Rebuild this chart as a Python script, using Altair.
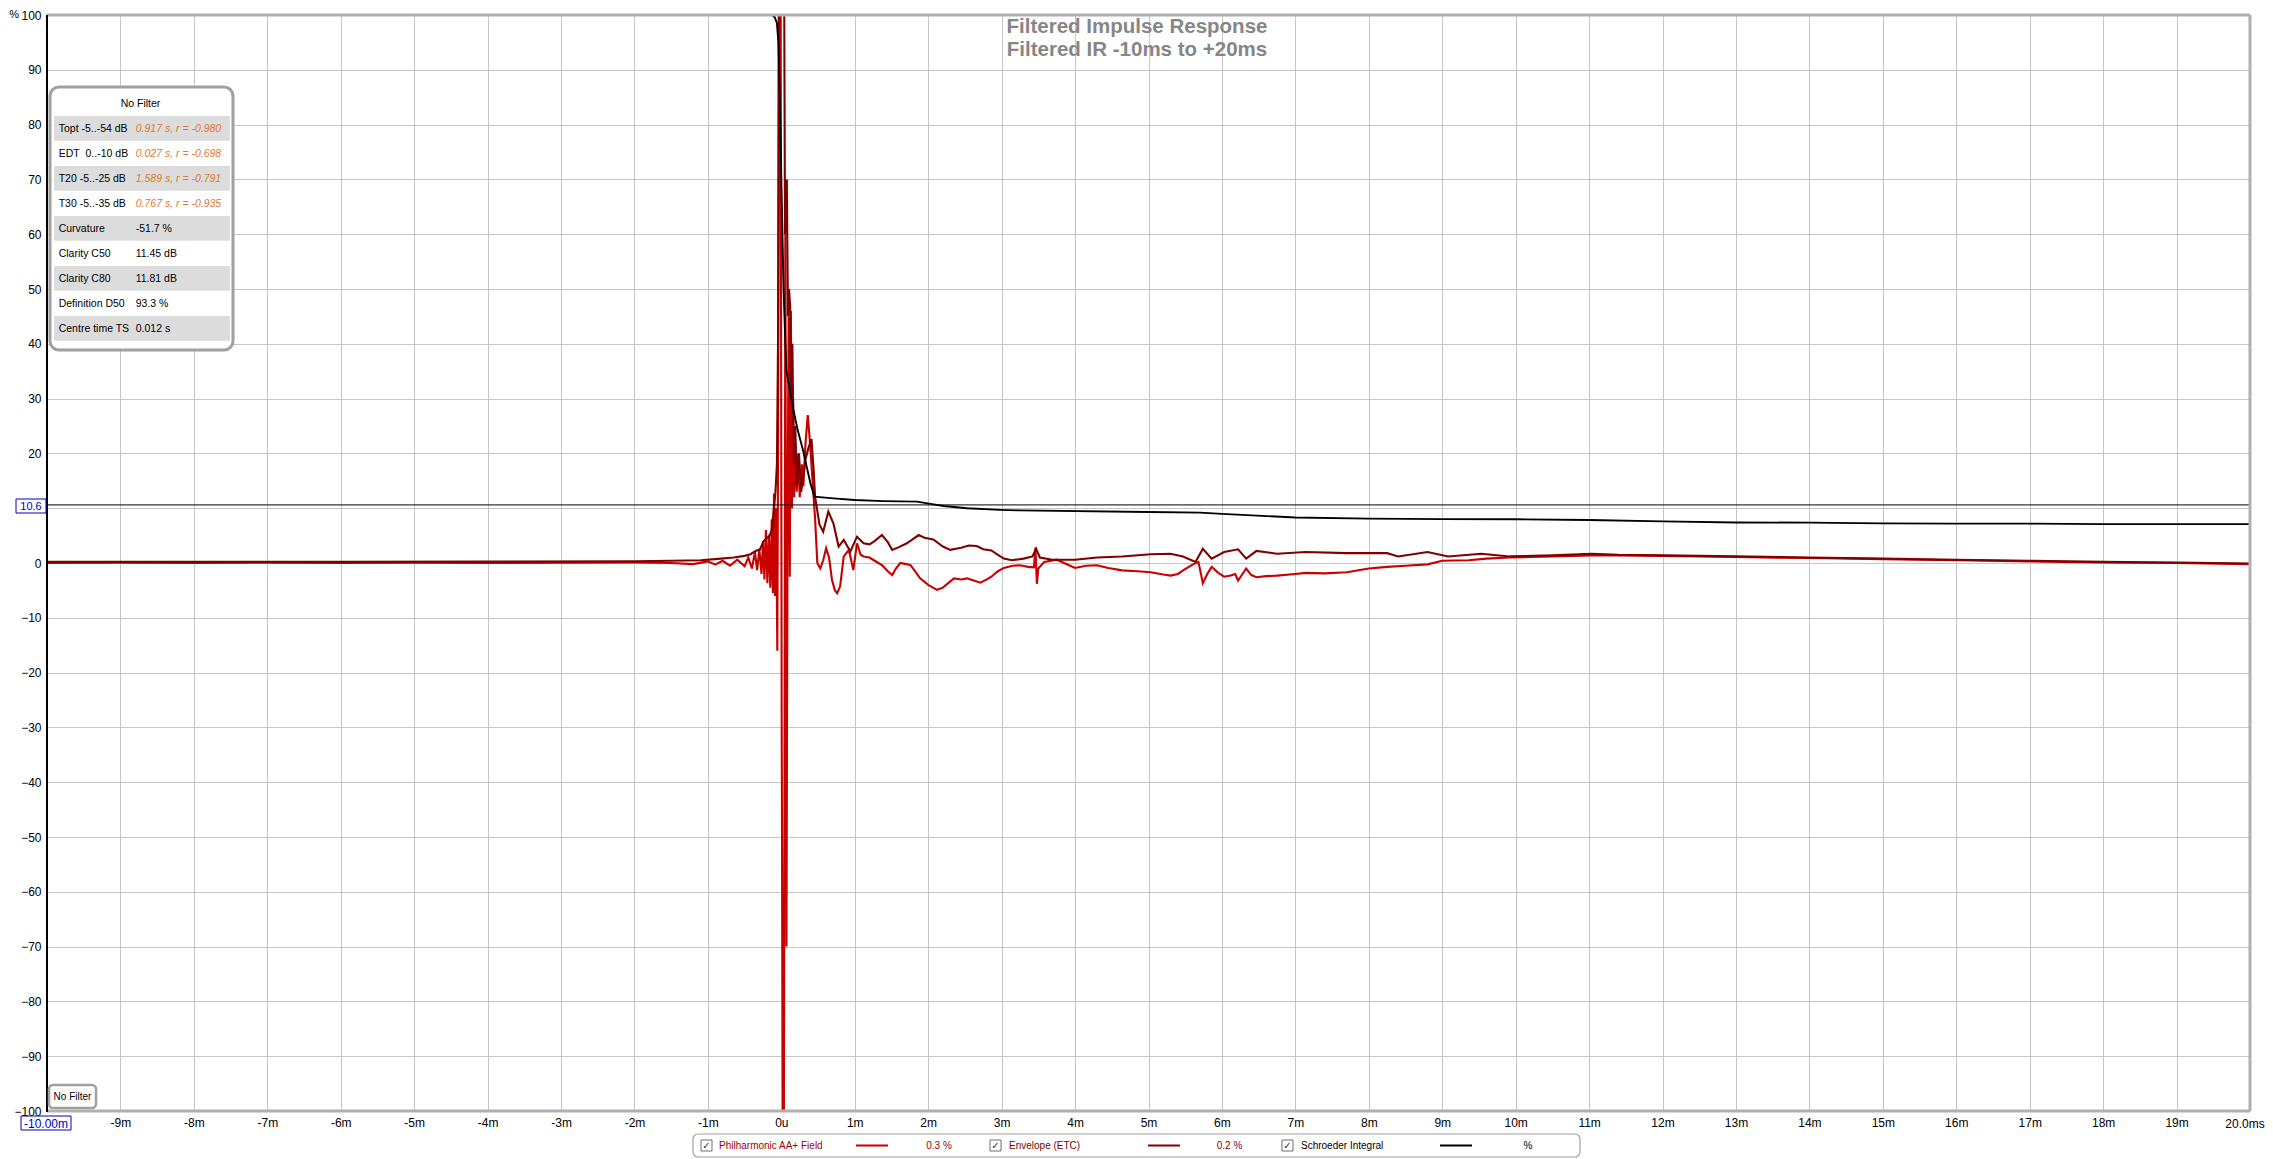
import altair as alt
import pandas as pd

# ---------------- data ----------------
ir_t = [-10.0, -9.0, -8.0, -7.0, -6.0, -5.0, -4.0, -3.0, -2.0, -1.5, -1.2, -1.0, -0.9, -0.8, -0.7, -0.6,
        -0.5, -0.45, -0.40, -0.36, -0.33, -0.30, -0.27, -0.25, -0.23, -0.21, -0.19, -0.17, -0.15, -0.13,
        -0.115, -0.10, -0.085, -0.07, -0.055, -0.045, -0.03, -0.01, 0.005, 0.02, 0.035, 0.045, 0.055, 0.07,
        0.085, 0.10, 0.115, 0.13, 0.145, 0.16, 0.175, 0.19, 0.21, 0.23, 0.25, 0.28, 0.30, 0.33, 0.36, 0.39,
        0.43, 0.46, 0.49, 0.53, 0.57, 0.61, 0.65, 0.69, 0.73, 0.76, 0.80, 0.85, 0.92, 0.98, 1.03, 1.08,
        1.12, 1.20, 1.26, 1.37, 1.45, 1.51, 1.56, 1.62, 1.70, 1.76, 1.82, 1.89, 2.0, 2.12, 2.2, 2.35,
        2.45, 2.53, 2.62, 2.71, 2.80, 2.86, 2.95, 3.03, 3.15, 3.25, 3.36, 3.44, 3.46, 3.48, 3.50, 3.58,
        3.75, 3.85, 4.0, 4.15, 4.3, 4.45, 4.64, 4.85, 5.03, 5.2, 5.3, 5.40, 5.47, 5.6, 5.68, 5.74, 5.8,
        5.86, 5.95, 6.03, 6.12, 6.18, 6.22, 6.28, 6.33, 6.40, 6.47, 6.6, 6.75, 7.0, 7.14, 7.4, 7.7, 8.0,
        8.25, 8.5, 8.8, 9.0, 9.36, 9.6, 9.92, 10.2, 10.5, 11.03, 11.4, 12.0, 13.0, 14.0, 15.0, 16.0,
        17.0, 18.0, 19.0, 20.0]
ir_v = [0.0, 0.05, 0.0, 0.05, 0.0, 0.05, 0.0, 0.05, 0.1, 0.0, -0.2, 0.3, -0.3, 0.4, -0.5, 0.6,
        -0.6, 1.0, -1.0, 2.0, -1.3, 2.5, -2.0, 4.0, -3.0, 6.0, -3.7, 5.0, -4.5, 8.0,
        -5.5, 12.7, -6.0, 10.0, -16.0, 20.0, 100, 100, -30, -100, -100, -24, 64, -70,
        10, 45, -2.5, 46, 10, 30, 12, 22, 13, 20, 12, 18, 14, 22, 27, 22,
        14, 8, 0, -1.0, 0.5, 2.7, 1.0, -3.1, -5.0, -5.5, -4.3, 1.2, 2.4, -1.3, 3.6, 1.5,
        1.2, 1.0, 0.5, -0.4, -1.5, -2.2, -1.0, 0.0, -0.2, -0.4, -1.5, -2.8, -4.0, -4.9, -4.5, -2.8,
        -3.0, -2.8, -3.2, -3.6, -3.0, -2.5, -1.5, -0.9, -0.5, -0.4, -0.7, -0.8, 2.8, -3.8, -1.0, 0.2,
        0.6, 0.0, -0.9, -0.5, -0.4, -0.9, -1.35, -1.5, -1.7, -2.1, -2.3, -2.0, -1.35, -0.3, 0.2, -3.7, -2.0,
        -0.7, -1.8, -2.5, -2.3, -2.0, -3.2, -2.0, -1.0, -2.2, -2.6, -2.4, -2.3, -2.0, -1.8, -1.9, -1.7, -1.0,
        -0.7, -0.5, -0.25, 0.4, 0.5, 0.8, 1.0, 1.1, 1.2, 1.4, 1.4, 1.3, 1.1, 0.9, 0.7, 0.5,
        0.3, 0.1, 0.0, -0.2]

env_t = [-10.0, -8.0, -6.0, -4.0, -2.0, -1.5, -1.1, -0.9, -0.65, -0.5, -0.42, -0.35, -0.29, -0.24, -0.20,
         -0.16, -0.13, -0.10, -0.08, -0.06, -0.045, -0.035, 0.04, 0.05, 0.06, 0.075, 0.09, 0.105, 0.12,
         0.135, 0.15, 0.17, 0.19, 0.21, 0.24, 0.27, 0.30, 0.33, 0.37, 0.41, 0.44, 0.46, 0.52, 0.57, 0.64,
         0.71, 0.78, 0.85, 0.94, 1.03, 1.12, 1.2, 1.26, 1.37, 1.45, 1.51, 1.6, 1.71, 1.87, 1.95, 2.07,
         2.2, 2.3, 2.45, 2.55, 2.66, 2.75, 2.86, 2.95, 3.03, 3.14, 3.3, 3.42, 3.47, 3.52, 3.69, 4.0, 4.3,
         4.64, 5.03, 5.3, 5.47, 5.64, 5.74, 5.86, 6.03, 6.22, 6.33, 6.47, 6.75, 7.14, 7.7, 8.25, 8.4, 8.8,
         9.08, 9.53, 9.92, 10.5, 11.03, 11.4, 12.0, 13.0, 14.0, 15.0, 16.0, 17.0, 18.0, 19.0, 20.0]
env_v = [0.2, 0.2, 0.2, 0.25, 0.3, 0.4, 0.5, 0.7, 1.0, 1.3, 1.6, 2.2, 2.5, 4.0, 4.5,
         5.0, 6.0, 10, 13, 18, 40, 100, 100, 60, 64, 70, 45, 50, 47,
         30, 40, 18, 25, 14, 20, 13, 16, 19, 21, 22.6, 17, 12, 7, 5.7, 9.4,
         7.2, 3.0, 4.2, 2.1, 4.8, 3.6, 3.4, 3.9, 5.1, 3.8, 2.4, 2.9, 3.6, 5.1, 4.6, 4.3,
         3.0, 2.4, 2.8, 3.2, 3.1, 2.5, 2.3, 1.5, 0.8, 0.5, 0.8, 1.2, 2.6, 1.0, 0.6, 0.6, 1.0,
         1.2, 1.6, 1.7, 1.2, 0.2, 2.6, 0.8, 2.0, 2.5, 0.8, 2.2, 1.7, 2.0, 1.8, 1.8, 1.2, 2.0,
         1.2, 1.7, 1.2, 1.4, 1.7, 1.5, 1.4, 1.2, 1.0, 0.8, 0.6, 0.4, 0.2, 0.1, -0.1]

sch_t = [-0.13, -0.09, -0.06, -0.04, -0.02, 0.0, 0.03, 0.068, 0.11, 0.154, 0.222, 0.295, 0.395, 0.45,
         0.71, 1.0, 1.39, 1.85, 2.03, 2.21, 2.53, 2.98, 3.25, 5.0, 5.7, 6.0, 7.0, 8.0, 9.0, 10.0, 11.0,
         12.0, 13.0, 14.0, 15.0, 16.0, 17.0, 18.0, 19.0, 20.0]
sch_v = [100, 99.6, 98.5, 95, 85, 70, 50, 35.2, 32, 28.6, 24.3, 20.6, 14.6, 12.1,
         11.8, 11.5, 11.3, 11.2, 10.8, 10.4, 10.0, 9.7, 9.6, 9.3, 9.2, 8.96, 8.3, 8.1, 8.0, 7.98, 7.85,
         7.6, 7.4, 7.36, 7.24, 7.18, 7.18, 7.1, 7.1, 7.1]

marker_level = [10.6]
marker_text = "10.6"
x_ticks = list(range(-9, 20))
y_ticks = list(range(-100, 101, 10))
x_start_label = "-10.00m"
x_end_label = "20.0ms"
y_unit = "%"
title_lines = ["Filtered Impulse Response", "Filtered IR -10ms to +20ms"]
table_title = "No Filter"
table_labels = ["Topt -5..-54 dB", "EDT\u00a0 0..-10 dB", "T20 -5..-25 dB", "T30 -5..-35 dB", "Curvature",
                "Clarity C50", "Clarity C80", "Definition D50", "Centre time TS"]
table_values = ["0.917 s, r = -0.980", "0.027 s, r = -0.698", "1.589 s, r = -0.791", "0.767 s, r = -0.935",
                "-51.7 %", "11.45 dB", "11.81 dB", "93.3 %", "0.012 s"]
table_is_fit = [True, True, True, True, False, False, False, False, False]
filter_label = "No Filter"
legend_names = ["Philharmonic AA+ Field", "Envelope (ETC)", "Schroeder Integral"]
legend_values = ["0.3 %", "0.2 %", "%"]

# ---------------- styles / layout ----------------
PW, PH = 2203, 1096
C_IR = "#c80000"
C_ENV = "#800000"
C_SCH = "#000000"
C_GRID = "#c6c6c6"
C_FRAME = "#b0b0b0"
C_BLUE = "#0000c0"
C_FIT = "#e07830"
FONT = "Liberation Sans"

one = pd.DataFrame({"k": [0]})

xs = alt.Scale(domain=[-10, 20], nice=False, zero=False)
ys = alt.Scale(domain=[-100, 100], nice=False, zero=False)
xaxis = alt.Axis(values=x_ticks, labelExpr="datum.value == 0 ? '0u' : datum.value + 'm'", title=None,
                 grid=True, gridColor=C_GRID, gridWidth=1, domain=False, ticks=False, tickSize=0,
                 labelFont=FONT, labelFontSize=12, labelColor="black", labelPadding=6,
                 labelOverlap=False, labelFlush=False, zindex=0)
# the "10" label sits under the 10.6 marker box in the reference
yaxis = alt.Axis(values=y_ticks, labelExpr="datum.value == 10 ? '' : datum.label", title=None,
                 grid=True, gridColor=C_GRID, gridWidth=1, domain=False,
                 ticks=False, tickSize=0, labelFont=FONT, labelFontSize=12, labelColor="black",
                 labelPadding=6, labelOverlap=False, labelFlush=False, zindex=0)
X = alt.X("t:Q", scale=xs, axis=xaxis)
Y = alt.Y("v:Q", scale=ys, axis=yaxis)


def series(ts, vs, color, width):
    df = pd.DataFrame({"t": ts, "v": vs, "i": list(range(len(ts)))})
    return alt.Chart(df).mark_line(color=color, strokeWidth=width, clip=True).encode(
        x=X, y=Y, order=alt.Order("i:Q"))


def box(x1, y1, x2, y2, fill="white", stroke=None, sw=1, r=0):
    kw = dict(fill=fill, cornerRadius=r)
    if stroke:
        kw.update(stroke=stroke, strokeWidth=sw)
    return alt.Chart(one).mark_rect(**kw).encode(
        x=alt.value(x1), x2=alt.value(x2), y=alt.value(y1), y2=alt.value(y2))


def text(s, x, y, size=11, color="black", align="left", weight="normal", style="normal", font=FONT,
         baseline="middle"):
    return alt.Chart(one).mark_text(align=align, baseline=baseline, fontSize=size, color=color,
                                    fontWeight=weight, fontStyle=style, font=font).encode(
        x=alt.value(x), y=alt.value(y), text=alt.value(s))


def hrule(x1, x2, y, color, w):
    return alt.Chart(one).mark_rule(color=color, strokeWidth=w).encode(
        x=alt.value(x1), x2=alt.value(x2), y=alt.value(y))


def vrule(x, y1, y2, color, w):
    return alt.Chart(one).mark_rule(color=color, strokeWidth=w).encode(
        x=alt.value(x), y=alt.value(y1), y2=alt.value(y2))


layers = [
    series(ir_t, ir_v, C_IR, 2.1),
    series(env_t, env_v, C_ENV, 2.1),
    series(sch_t, sch_v, C_SCH, 1.9),
    alt.Chart(pd.DataFrame({"v": marker_level})).mark_rule(color="black", strokeWidth=1).encode(y=Y),
    # frame
    hrule(0, PW, 0, C_FRAME, 3),
    hrule(0, PW, PH, C_FRAME, 3),
    vrule(PW, 0, PH, C_FRAME, 3),
    vrule(0, 0, PH + 1, "black", 2),
    # title
    text(title_lines[0], 1090, 11.5, size=20.5, color="#868686", align="center", weight="bold"),
    text(title_lines[1], 1090, 35, size=20.5, color="#868686", align="center", weight="bold"),
    # y unit (the page margin leaves no room above "100", so it sits just left of it)
    text(y_unit, -28, 0, size=11, align="right"),
    # marker box
    box(-31, 484, -1, 498, stroke=C_BLUE, sw=1),
    text(marker_text, -16, 491.5, size=11, color=C_BLUE, align="center"),
    # x start / end labels
    box(-26, 1101, 24, 1115, stroke=C_BLUE, sw=1),
    text(x_start_label, -1, 1108.5, size=12, color=C_BLUE, align="center"),
    text(x_end_label, 2198, 1109, size=12, align="center"),
    # filter box bottom-left
    box(2, 1070, 49, 1093, stroke="#a0a0a0", sw=2.5, r=4),
    text(filter_label, 25.5, 1081.5, size=10, align="center"),
    # info table
    box(3, 72, 186, 335, stroke="#a0a0a0", sw=3, r=9),
    text(table_title, 93.5, 89, size=10.5, align="center"),
]
for i, (lab, val, fit) in enumerate(zip(table_labels, table_values, table_is_fit)):
    top = 101 + 25 * i
    if i % 2 == 0:
        layers.append(box(7, top, 183, top + 24.7, fill="#dcdcdc"))
    yc = top + 12.5
    layers.append(text(lab, 11.7, yc, size=10.5))
    layers.append(text(val, 88.7, yc, size=10.5, color=C_FIT if fit else "black",
                       style="italic" if fit else "normal"))

# legend strip
layers.append(box(646, 1119, 1533, 1142, stroke="#a0a0a0", sw=1.2, r=5))
leg_check_x = [654, 943, 1235]
leg_text_x = [672, 962, 1254]
leg_line_x = [(809, 841), (1101, 1133), (1393, 1425)]
leg_val_x = [892, 1182.5, 1481]
leg_colors = [C_IR, C_ENV, C_SCH]
leg_text_colors = ["#a00000", "#800000", "#000000"]
ly = 1130.5
for k in range(3):
    cx = leg_check_x[k]
    layers.append(box(cx, ly - 5.5, cx + 11, ly + 5.5, stroke="#6e6e6e", sw=1))
    layers.append(text("\u2713", cx + 5.5, ly + 0.5, size=10, align="center", weight="bold",
                       font="DejaVu Sans", color="#303030"))
    layers.append(text(legend_names[k], leg_text_x[k], ly, size=10, color=leg_text_colors[k]))
    layers.append(hrule(leg_line_x[k][0], leg_line_x[k][1], ly, leg_colors[k], 2))
    layers.append(text(legend_values[k], leg_val_x[k], ly, size=10, color=leg_text_colors[k],
                       align="center"))

chart = alt.layer(*layers).properties(
    width=PW, height=PH,
    autosize=alt.AutoSizeParams(type="none"),
    padding={"left": 39, "top": 7, "right": 15, "bottom": 48},
    background="white",
).configure_view(stroke=None)

chart.save("out.html", embed_options={"renderer": "svg", "actions": False})
